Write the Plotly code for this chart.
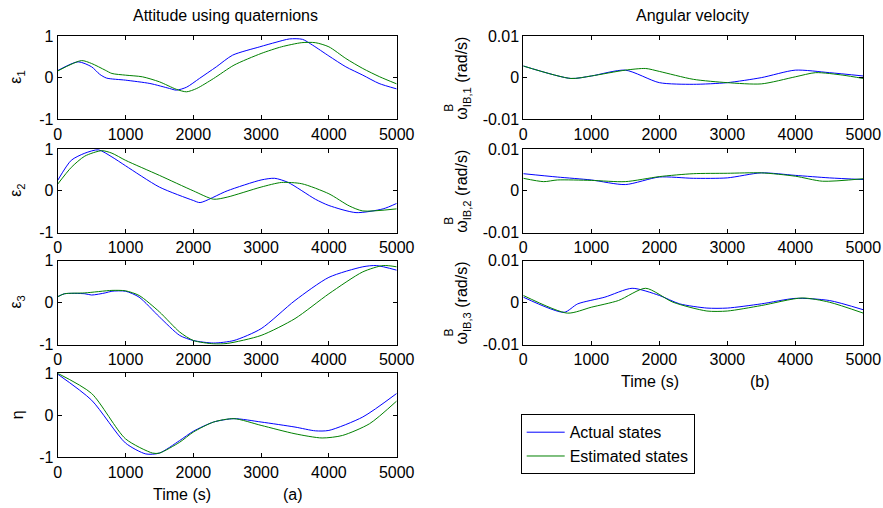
import plotly.graph_objects as go

# ---------------- data ----------------
time_ticks = [0, 1000, 2000, 3000, 4000, 5000]

# epsilon_1
e1_t_act = [0, 300, 500, 620, 720, 1000, 1360, 1650, 1750, 1900, 2090, 2340, 2580, 2980, 3220, 3420, 3610, 3760, 4000, 4250, 4500, 4740, 5000]
e1_act = [0.17, 0.38, 0.26, 0.08, -0.01, -0.06, -0.14, -0.26, -0.30, -0.23, -0.02, 0.26, 0.54, 0.74, 0.85, 0.93, 0.92, 0.78, 0.52, 0.26, 0.06, -0.14, -0.27]
e1_t_est = [0, 350, 500, 700, 800, 1000, 1250, 1500, 1750, 1900, 2050, 2300, 2600, 3000, 3300, 3600, 3800, 4000, 4250, 4500, 4750, 5000]
e1_est = [0.16, 0.41, 0.34, 0.18, 0.10, 0.06, 0.02, -0.10, -0.28, -0.34, -0.26, -0.02, 0.30, 0.58, 0.74, 0.84, 0.84, 0.74, 0.46, 0.22, 0.02, -0.15]

# epsilon_2
e2_t_act = [0, 200, 400, 600, 800, 1000, 1500, 2000, 2100, 2500, 3000, 3200, 3400, 3800, 4000, 4400, 4800, 5000]
e2_act = [0.25, 0.73, 0.90, 0.98, 0.81, 0.60, 0.09, -0.23, -0.28, 0.00, 0.26, 0.30, 0.20, -0.20, -0.35, -0.52, -0.43, -0.30]
e2_t_est = [0, 200, 400, 650, 800, 1000, 1500, 2000, 2300, 2500, 3000, 3300, 3600, 4000, 4300, 4500, 5000]
e2_est = [0.16, 0.56, 0.83, 0.96, 0.90, 0.73, 0.37, 0.00, -0.20, -0.15, 0.09, 0.20, 0.17, -0.07, -0.36, -0.48, -0.43]

# epsilon_3
e3_t_act = [0, 100, 400, 500, 700, 800, 1000, 1200, 1500, 1800, 2000, 2300, 2600, 3000, 3500, 4000, 4500, 4700, 5000]
e3_act = [0.14, 0.21, 0.21, 0.18, 0.23, 0.27, 0.27, 0.13, -0.34, -0.78, -0.90, -0.96, -0.90, -0.62, 0.05, 0.60, 0.85, 0.88, 0.77]
e3_t_est = [0, 100, 400, 800, 1000, 1200, 1500, 1800, 2000, 2300, 2500, 3000, 3500, 4000, 4500, 4800, 5000]
e3_est = [0.14, 0.21, 0.23, 0.29, 0.28, 0.17, -0.22, -0.70, -0.90, -0.98, -0.97, -0.78, -0.38, 0.21, 0.73, 0.88, 0.85]

# eta
eta_t_act = [0, 500, 1000, 1300, 1500, 1800, 2000, 2300, 2600, 3000, 3500, 3800, 4000, 4500, 5000]
eta_act = [0.98, 0.36, -0.66, -0.92, -0.90, -0.60, -0.38, -0.16, -0.08, -0.16, -0.28, -0.37, -0.36, -0.04, 0.52]
eta_t_est = [0, 500, 1000, 1400, 1500, 1800, 2000, 2300, 2600, 3000, 3500, 3900, 4200, 4600, 5000]
eta_est = [1.00, 0.52, -0.56, -0.90, -0.90, -0.64, -0.40, -0.16, -0.08, -0.24, -0.44, -0.54, -0.48, -0.20, 0.34]

# omega_1
w1_t_act = [0, 700, 1000, 1500, 2000, 2500, 3000, 3500, 4000, 4500, 5000]
w1_act = [0.0028, -0.0002, 0.0004, 0.0018, -0.0012, -0.0016, -0.0012, 0.0000, 0.0018, 0.0012, 0.0004]
w1_t_est = [0, 700, 1000, 1500, 1800, 2000, 2500, 3000, 3500, 4000, 4300, 4700, 5000]
w1_est = [0.0028, -0.0002, 0.0004, 0.0018, 0.0022, 0.0015, -0.0004, -0.0012, -0.0015, 0.0002, 0.0012, 0.0006, -0.0002]

# omega_2
w2_t_act = [0, 500, 1000, 1500, 2000, 2500, 3000, 3500, 4000, 4500, 5000]
w2_act = [0.0041, 0.0033, 0.0026, 0.0015, 0.0033, 0.0030, 0.0031, 0.0043, 0.0037, 0.0031, 0.0027]
w2_t_est = [0, 300, 500, 1000, 1500, 2000, 2500, 3000, 3500, 4000, 4400, 5000]
w2_est = [0.0030, 0.0022, 0.0026, 0.0025, 0.0022, 0.0034, 0.0041, 0.0042, 0.0043, 0.0035, 0.0023, 0.0029]

# omega_3
w3_t_act = [0, 600, 800, 1200, 1600, 2000, 2300, 2700, 3000, 3500, 4000, 4500, 5000]
w3_act = [0.0013, -0.0023, -0.0003, 0.0013, 0.0034, 0.0017, -0.0003, -0.0013, -0.0013, -0.0003, 0.0010, 0.0005, -0.0017]
w3_t_est = [0, 650, 1000, 1400, 1800, 2200, 2700, 3000, 3500, 4100, 4500, 5000]
w3_est = [0.0017, -0.0025, -0.0011, 0.0005, 0.0034, 0.0001, -0.0020, -0.0020, -0.0007, 0.0011, 0.0001, -0.0025]

left_ticks = [-1, 0, 1]
left_ticktext = ["-1", "0", "1"]
right_ticks = [-0.01, 0, 0.01]
right_ticktext = ["-0.01", "0", "0.01"]

series_names = ["Actual states", "Estimated states"]

# ---------------- layout geometry ----------------
W, H = 883, 508
FONT = "Liberation Sans, Arial, sans-serif"
BLUE = "#0000FF"
GREEN = "#008000"

def px_x(p):
    return p / W

def px_y(p):
    return 1 - p / H

left_dom = [px_x(57.7), px_x(396.7)]
right_dom = [px_x(523.3), px_x(863.3)]
rows = [(36, 119.3), (149, 232.7), (260.5, 344.7), (373.3, 457.3)]

panels = [
    ("L", 0, e1_t_act, e1_act, e1_t_est, e1_est),
    ("L", 1, e2_t_act, e2_act, e2_t_est, e2_est),
    ("L", 2, e3_t_act, e3_act, e3_t_est, e3_est),
    ("L", 3, eta_t_act, eta_act, eta_t_est, eta_est),
    ("R", 0, w1_t_act, w1_act, w1_t_est, w1_est),
    ("R", 1, w2_t_act, w2_act, w2_t_est, w2_est),
    ("R", 2, w3_t_act, w3_act, w3_t_est, w3_est),
]

fig = go.Figure()
layout = {}
for i, (col, row, ta, a, te, e) in enumerate(panels):
    n = i + 1
    xa = "x" if n == 1 else f"x{n}"
    ya = "y" if n == 1 else f"y{n}"
    fig.add_trace(go.Scatter(x=ta, y=a, mode="lines", name=series_names[0],
                             line=dict(color=BLUE, width=1, shape="spline", smoothing=0.7),
                             xaxis=xa, yaxis=ya, showlegend=(n == 1), legendrank=1))
    fig.add_trace(go.Scatter(x=te, y=e, mode="lines", name=series_names[1],
                             line=dict(color=GREEN, width=1, shape="spline", smoothing=0.7),
                             xaxis=xa, yaxis=ya, showlegend=(n == 1), legendrank=2))
    top, bot = rows[row]
    common = dict(showline=True, linecolor="black", linewidth=1, mirror="ticks",
                  ticks="inside", ticklen=4, tickcolor="black", tickwidth=1,
                  showgrid=False, zeroline=False, automargin=False,
                  tickfont=dict(family=FONT, size=16, color="black"))
    layout[f"xaxis{'' if n == 1 else n}"] = dict(
        domain=left_dom if col == "L" else right_dom, range=[0, 5000],
        tickvals=time_ticks, ticktext=[str(v) for v in time_ticks],
        anchor=ya, **common)
    if col == "L":
        layout[f"yaxis{'' if n == 1 else n}"] = dict(
            domain=[px_y(bot), px_y(top)], range=[-1, 1],
            tickvals=left_ticks, ticktext=left_ticktext, anchor=xa, **common)
    else:
        layout[f"yaxis{'' if n == 1 else n}"] = dict(
            domain=[px_y(bot), px_y(top)], range=[-0.01, 0.01],
            tickvals=right_ticks, ticktext=right_ticktext, anchor=xa, **common)

def ann(text, x, y, size=16, angle=0):
    return dict(text=text, x=px_x(x), y=px_y(y), xref="paper", yref="paper",
                showarrow=False, textangle=angle, xanchor="center", yanchor="middle",
                font=dict(family=FONT, size=size, color="black"))

annotations = [
    ann("Attitude using quaternions", 225, 16),
    ann("Angular velocity", 692, 16),
    ann("Time (s)", 182, 494),
    ann("(a)", 293, 494),
    ann("Time (s)", 650, 381),
    ann("(b)", 760, 381),
]
left_labels = ["ε<sub>1</sub>", "ε<sub>2</sub>", "ε<sub>3</sub>", "η"]
for r, lab in enumerate(left_labels):
    top, bot = rows[r]
    annotations.append(ann(lab, 17, (top + bot) / 2, angle=-90))
right_labels = ["ω<sub>IB,1</sub> (rad/s)", "ω<sub>IB,2</sub> (rad/s)", "ω<sub>IB,3</sub> (rad/s)"]
for r, lab in enumerate(right_labels):
    top, bot = rows[r]
    c = (top + bot) / 2
    annotations.append(ann(lab, 463, c + 1, angle=-90))
    annotations.append(ann("B", 449, c + 30, size=12, angle=-90))

fig.update_layout(
    template="none",
    width=W, height=H, autosize=False,
    margin=dict(l=0, r=0, t=0, b=0, pad=0, autoexpand=False),
    paper_bgcolor="white", plot_bgcolor="white",
    font=dict(family=FONT, size=16, color="black"),
    annotations=annotations,
    legend=dict(x=px_x(520.7), y=px_y(414.3), xanchor="left", yanchor="top",
                bordercolor="black", borderwidth=1, bgcolor="white",
                font=dict(family=FONT, size=16, color="black"),
                itemwidth=38, tracegroupgap=0),
    **layout,
)

fig.write_html("out.html",
               config={"displayModeBar": False},
               post_script="document.body.style.margin='0';document.body.style.padding='0';document.body.style.overflow='hidden';")
